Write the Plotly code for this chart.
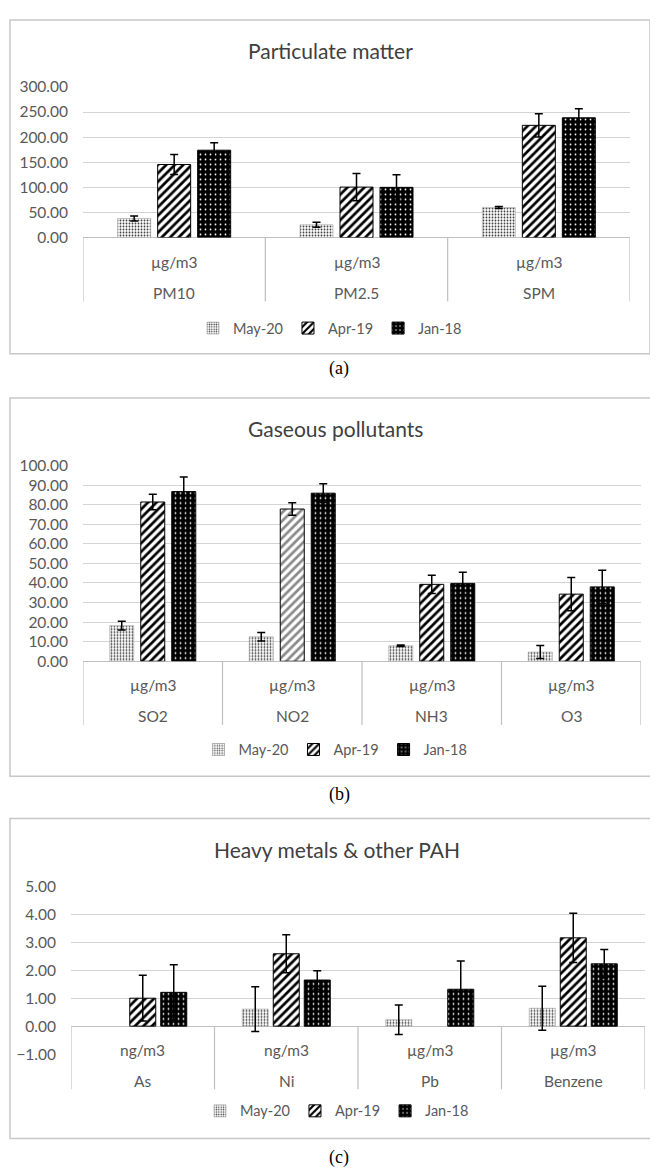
import plotly.graph_objects as go

W, H = 658, 1169

series_names = ["May-20", "Apr-19", "Jan-18"]

# Panel (a) Particulate matter
a_categories = ["PM10", "PM2.5", "SPM"]
a_units = ["µg/m3", "µg/m3", "µg/m3"]
a_may = [38.0, 25.5, 60.0]
a_may_err = [5.0, 5.0, 2.0]
a_apr = [145.5, 100.5, 223.5]
a_apr_err = [20.0, 27.0, 23.0]
a_jan = [174.0, 100.0, 238.5]
a_jan_err = [15.0, 25.0, 18.0]

# Panel (b) Gaseous pollutants
b_categories = ["SO2", "NO2", "NH3", "O3"]
b_units = ["µg/m3", "µg/m3", "µg/m3", "µg/m3"]
b_may = [18.2, 12.5, 7.9, 4.7]
b_may_err = [2.2, 2.2, 0.4, 3.3]
b_apr = [81.4, 77.8, 39.3, 34.3]
b_apr_err = [4.0, 3.2, 4.7, 8.5]
b_jan = [86.7, 85.9, 39.8, 38.0]
b_jan_err = [7.5, 4.8, 5.7, 8.5]

# Panel (c) Heavy metals & other PAH
c_categories = ["As", "Ni", "Pb", "Benzene"]
c_units = ["ng/m3", "ng/m3", "µg/m3", "µg/m3"]
c_may = [None, 0.61, 0.23, 0.64]
c_may_err = [None, 0.80, 0.53, 0.79]
c_apr = [1.00, 2.59, None, 3.16]
c_apr_err = [0.82, 0.68, None, 0.88]
c_jan = [1.21, 1.65, 1.32, 2.23]
c_jan_err = [0.99, 0.33, 1.01, 0.51]

FONT = "Lato"
TXT = "#595959"
GRID = "#d4d4d4"
AXC = "#bfbfbf"
BORDER = "#c8c8c8"


def py(p):
    return 1 - p / H


def px(p):
    return p / W


panels = [
    dict(title="Particulate matter", cats=a_categories, units=a_units,
         data=[(a_may, a_may_err), (a_apr, a_apr_err), (a_jan, a_jan_err)],
         xdom=(75, 622), ytop=70, ybot=223, rng=[0, 300], dtick=50,
         box=(2, 2, 642, 341), divbot=288, title_y=33, legend_y=315,
         cap="(a)", cap_y=356, bw_px=33, pitch_px=40, apr_fg=None),
    dict(title="Gaseous pollutants", cats=b_categories, units=b_units,
         data=[(b_may, b_may_err), (b_apr, b_apr_err), (b_jan, b_jan_err)],
         xdom=(75, 633), ytop=454.6, ybot=653.3, rng=[0, 100], dtick=10,
         box=(2, 386, 653, 770), divbot=718, title_y=417, legend_y=743,
         cap="(b)", cap_y=789, bw_px=24, pitch_px=31,
         apr_fg=["#000000", "#8a8a8a", "#000000", "#000000"]),
    dict(title="Heavy metals & other PAH", cats=c_categories, units=c_units,
         data=[(c_may, c_may_err), (c_apr, c_apr_err), (c_jan, c_jan_err)],
         xdom=(63, 637), ytop=882, ybot=1052.3, rng=[-1, 5], dtick=1,
         box=(2, 813, 656, 1138), divbot=1088, title_y=845, legend_y=1110,
         cap="(c)", cap_y=1157, bw_px=26, pitch_px=31, apr_fg=None),
]

fig = go.Figure()
shapes = []
annotations = []
layout_axes = {}

for i, p in enumerate(panels):
    k = "" if i == 0 else str(i + 1)
    xa, ya = "x" + k, "y" + k
    leg = "legend" if i == 0 else "legend" + str(i + 1)
    ncat = len(p["cats"])
    cat_px = (p["xdom"][1] - p["xdom"][0]) / ncat
    bw = p["bw_px"] / cat_px
    pitch = p["pitch_px"] / cat_px

    styles = [
        dict(color="white", line=dict(color="#a0a0a0", width=0.6),
             pattern=dict(shape=".", fgcolor="#3a3a3a", bgcolor="#ffffff",
                          size=3, solidity=0.3, fillmode="replace")),
        dict(color="white", line=dict(color="#000000", width=1),
             pattern=dict(shape="/", fgcolor=p["apr_fg"] or "#000000",
                          bgcolor="#ffffff", size=6, solidity=0.45,
                          fillmode="replace")),
        dict(color="black", line=dict(color="#000000", width=1),
             pattern=dict(shape=".", fgcolor="#ffffff", bgcolor="#000000",
                          size=5, solidity=0.1, fillmode="replace")),
    ]
    for j, (vals, errs) in enumerate(p["data"]):
        center = (j - 1) * pitch
        fig.add_trace(go.Bar(
            x=p["cats"], y=vals, name=series_names[j],
            xaxis=xa, yaxis=ya, legend=leg,
            width=bw, offset=center - bw / 2,
            marker=styles[j],
            error_y=dict(type="data", array=errs, visible=True,
                         color="#000000", thickness=1.5, width=4),
            hoverinfo="skip",
        ))

    xkey = "xaxis" + k
    ykey = "yaxis" + k
    layout_axes[xkey] = dict(
        domain=[px(p["xdom"][0]), px(p["xdom"][1])], anchor=ya,
        type="category", range=[-0.5, ncat - 0.5], showticklabels=False,
        showgrid=False, zeroline=False, showline=False, ticks="",
        fixedrange=True)
    layout_axes[ykey] = dict(
        domain=[py(p["ybot"]), py(p["ytop"])], anchor=xa,
        range=p["rng"], dtick=p["dtick"], tick0=0, tickformat=".2f",
        showgrid=True, gridcolor=GRID, gridwidth=1,
        zeroline=True, zerolinecolor=AXC, zerolinewidth=1.2,
        showline=False, ticks="", ticklabelstandoff=14,
        tickfont=dict(family=FONT, size=15.5, color=TXT), fixedrange=True)

    # panel border
    x0, y0, x1, y1 = p["box"]
    shapes.append(dict(type="rect", xref="paper", yref="paper",
                       x0=px(x0), x1=px(x1), y0=py(y1), y1=py(y0),
                       line=dict(color=BORDER, width=1.5), layer="below"))
    # pixel row of the value 0 on this panel's y axis
    zero_px = p["ybot"] - (p["ybot"] - p["ytop"]) * (0 - p["rng"][0]) / (p["rng"][1] - p["rng"][0])
    # category dividers (multi-level axis box)
    for d in range(ncat + 1):
        shapes.append(dict(type="line", xref=xa, yref="paper",
                           x0=d - 0.5, x1=d - 0.5,
                           y0=py(p["divbot"]), y1=py(zero_px),
                           line=dict(color=AXC, width=1.2)))
    # category labels
    for c, u in zip(p["cats"], p["units"]):
        annotations.append(dict(xref=xa, yref=ya, x=c, y=0, yshift=-24,
                                text=u, showarrow=False,
                                font=dict(family=FONT, size=15.5, color=TXT)))
        annotations.append(dict(xref=xa, yref=ya, x=c, y=0, yshift=-55,
                                text=c, showarrow=False,
                                font=dict(family=FONT, size=15.5, color=TXT)))
    # title
    annotations.append(dict(xref="paper", yref="paper",
                            x=px((x0 + x1) / 2), y=py(p["title_y"]),
                            text=p["title"], showarrow=False,
                            xanchor="center", yanchor="middle",
                            font=dict(family=FONT, size=21, color="#404040")))
    # caption
    annotations.append(dict(xref="paper", yref="paper",
                            x=px(331), y=py(p["cap_y"]),
                            text=p["cap"], showarrow=False,
                            xanchor="center", yanchor="middle",
                            font=dict(family="Liberation Serif", size=18,
                                      color="#000000")))
    layout_axes[leg] = dict(
        orientation="h", x=px((x0 + x1) / 2), xanchor="center",
        y=py(p["legend_y"]), yanchor="middle",
        font=dict(family=FONT, size=14.5, color=TXT),
        itemwidth=30, tracegroupgap=0, bgcolor="rgba(0,0,0,0)",
        traceorder="normal")

fig.update_layout(
    width=W, height=H, margin=dict(l=0, r=0, t=0, b=0),
    paper_bgcolor="white", plot_bgcolor="white",
    barmode="overlay", showlegend=True,
    shapes=shapes, annotations=annotations,
    **layout_axes,
)

fig.write_html("out.html")
